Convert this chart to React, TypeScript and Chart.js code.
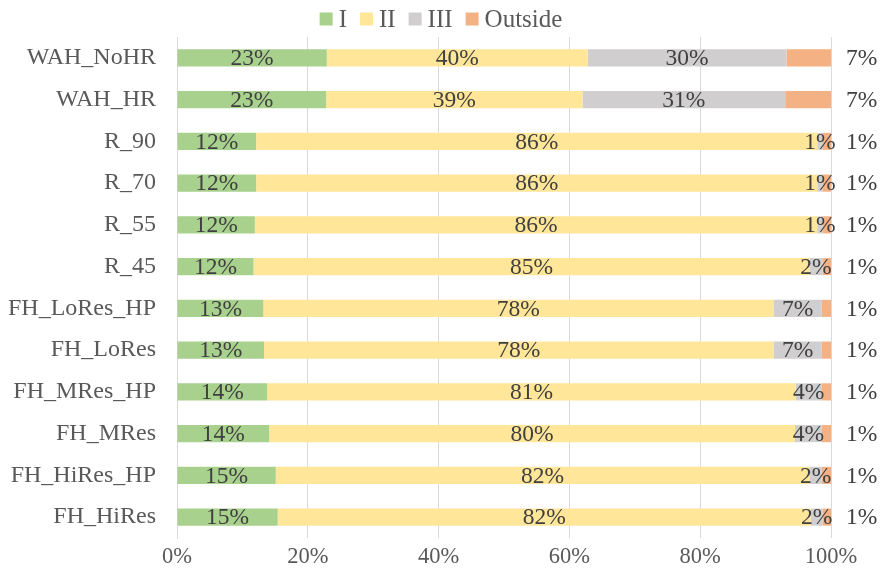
import React, { useEffect, useRef } from "react";
import { Chart, registerables } from "chart.js";

Chart.register(...registerables);

const categories = [
  "WAH_NoHR",
  "WAH_HR",
  "R_90",
  "R_70",
  "R_55",
  "R_45",
  "FH_LoRes_HP",
  "FH_LoRes",
  "FH_MRes_HP",
  "FH_MRes",
  "FH_HiRes_HP",
  "FH_HiRes",
];

const zoneI = [22.9, 22.8, 12.1, 12.1, 11.9, 11.7, 13.2, 13.3, 13.8, 14.1, 15.1, 15.4];
const zoneII = [39.9, 39.2, 85.8, 85.8, 86.0, 85.0, 78.0, 77.9, 80.8, 80.4, 81.6, 81.5];
const zoneIII = [30.4, 31.0, 0.8, 0.8, 0.8, 2.0, 7.4, 7.4, 4.0, 4.1, 1.9, 1.8];
const zoneOutside = [6.8, 7.0, 1.3, 1.3, 1.3, 1.3, 1.4, 1.4, 1.4, 1.4, 1.4, 1.3];

const seriesNames = ["I", "II", "III", "Outside"];
const seriesColors = ["#a9d18e", "#ffe699", "#d0cece", "#f4b183"];
const xTicks = [0, 20, 40, 60, 80, 100];

const FONT = '"Liberation Serif", "Times New Roman", serif';

const labelPlugin = {
  id: "segLabels",
  afterDatasetsDraw(chart: any) {
    const ctx = chart.ctx;
    const area = chart.chartArea;
    ctx.save();
    ctx.font = `23.5px ${FONT}`;
    ctx.fillStyle = "#404040";
    ctx.textBaseline = "middle";
    chart.data.datasets.forEach((ds: any, di: number) => {
      const meta = chart.getDatasetMeta(di);
      meta.data.forEach((bar: any, i: number) => {
        const v = ds.data[i];
        const txt = Math.round(v) + "%";
        if (di === 3) {
          ctx.textAlign = "left";
          ctx.fillText(txt, area.right + 15, bar.y + 1);
        } else {
          ctx.textAlign = "center";
          const cx = (bar.x + bar.base) / 2;
          ctx.fillText(txt, cx, bar.y + 1);
        }
      });
    });
    ctx.restore();
  },
};

const legendPlugin = {
  id: "customLegend",
  afterDraw(chart: any) {
    const ctx = chart.ctx;
    ctx.save();
    ctx.font = `25px ${FONT}`;
    ctx.textBaseline = "middle";
    const box = 13;
    const gapText = 6;
    const gapItem = 13;
    const widths = seriesNames.map((n) => box + gapText + ctx.measureText(n).width);
    const total = widths.reduce((a, b) => a + b, 0) + gapItem * (seriesNames.length - 1);
    let x = (chart.width - total) / 2;
    const cy = 19;
    seriesNames.forEach((n, i) => {
      ctx.fillStyle = seriesColors[i];
      ctx.fillRect(x, cy - box / 2, box, box);
      ctx.fillStyle = "#595959";
      ctx.textAlign = "left";
      ctx.fillText(n, x + box + gapText, cy + 1);
      x += widths[i] + gapItem;
    });
    ctx.restore();
  },
};

export default function App() {
  const ref = useRef<HTMLCanvasElement | null>(null);
  useEffect(() => {
    if (!ref.current) return;
    const data = [zoneI, zoneII, zoneIII, zoneOutside];
    const chart = new Chart(ref.current, {
      type: "bar",
      data: {
        labels: categories,
        datasets: data.map((d, i) => ({
          label: seriesNames[i],
          data: d,
          backgroundColor: seriesColors[i],
          borderWidth: 0,
          barPercentage: 0.41,
          categoryPercentage: 1,
        })),
      },
      options: {
        indexAxis: "y",
        animation: false,
        responsive: false,
        maintainAspectRatio: false,
        layout: { padding: { top: 37, right: 51, left: 0, bottom: 0 } },
        plugins: {
          legend: { display: false },
          tooltip: { enabled: false },
        },
        scales: {
          x: {
            stacked: true,
            min: 0,
            max: 100,
            afterBuildTicks: (scale: any) => {
              scale.ticks = xTicks.map((v) => ({ value: v }));
            },
            afterFit: (scale: any) => {
              scale.height = 41;
            },
            grid: { color: "#d9d9d9", drawTicks: false, lineWidth: 1 },
            border: { display: false },
            ticks: {
              padding: 6,
              color: "#595959",
              font: { family: FONT, size: 22.5 },
              callback: (v: any) => v + "%",
            },
          },
          y: {
            stacked: true,
            afterFit: (scale: any) => {
              scale.width = 177;
            },
            grid: { display: false, drawTicks: false },
            border: { display: true, color: "#d9d9d9", width: 1 },
            ticks: {
              padding: 21,
              color: "#595959",
              font: { family: FONT, size: 24 },
            },
          },
        },
      },
      plugins: [labelPlugin, legendPlugin],
    });
    return () => chart.destroy();
  }, []);
  return (
    <div style={{ position: "fixed", left: 0, top: 0, width: 882, height: 579, background: "#fff" }}>
      <canvas ref={ref} width={882} height={579} style={{ width: 882, height: 579 }} />
    </div>
  );
}
